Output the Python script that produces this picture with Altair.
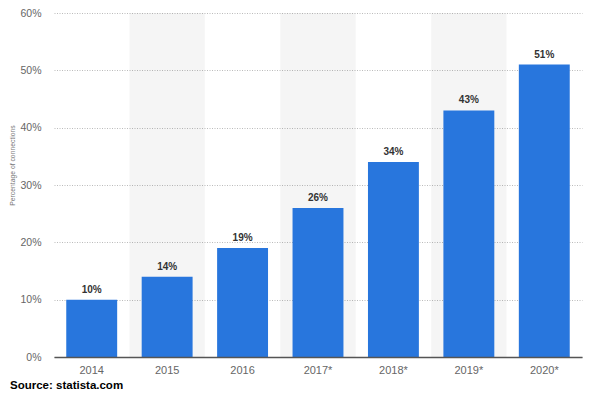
import altair as alt
import pandas as pd

years = ["2014", "2015", "2016", "2017*", "2018*", "2019*", "2020*"]
values = [10, 14, 19, 26, 34, 43, 51]
labels = ["10%", "14%", "19%", "26%", "34%", "43%", "51%"]
shaded_years = ["2015", "2017*", "2019*"]
y_ticks = [0, 10, 20, 30, 40, 50, 60]
source_text = "Source: statista.com"
y_title = "Percentage of connections"

FONT = "Liberation Sans"

df = pd.DataFrame({"year": years, "value": values, "label": labels})
bands = pd.DataFrame({"year": shaded_years})
src = pd.DataFrame({"t": [source_text]})

x_enc = alt.X(
    "year:N",
    sort=years,
    scale=alt.Scale(paddingInner=0, paddingOuter=0),
    axis=alt.Axis(
        title=None,
        labelAngle=0,
        bandPosition=0.5,
        labelAlign="center",
        ticks=False,
        tickSize=0,
        labelPadding=13,
        labelFont=FONT,
        labelFontSize=11,
        labelColor="#666666",
        domainColor="#555555",
        domainWidth=1.5,
        grid=False,
    ),
)

band_layer = alt.Chart(bands).mark_rect(color="#000000", opacity=0.04).encode(
    x=alt.X("year:N", sort=years),
    y=alt.value(0),
    y2=alt.value(344),
)

bars = alt.Chart(df).mark_bar(
    width=alt.RelativeBandSize(0.675), color="#2876dd"
).encode(
    x=x_enc,
    y=alt.Y(
        "value:Q",
        scale=alt.Scale(domain=[0, 60], nice=False),
        axis=alt.Axis(
            values=y_ticks,
            labelExpr="datum.value + '%'",
            title=y_title,
            titleFont=FONT,
            titleFontSize=6.8,
            titleFontWeight="normal",
            titleColor="#777777",
            titleAngle=-90,
            titleX=-42,
            titleY=152,
            titleAlign="center",
            titleBaseline="middle",
            ticks=False,
            tickSize=0,
            labelPadding=13,
            labelFont=FONT,
            labelFontSize=10.5,
            labelColor="#666666",
            domain=False,
            grid=True,
            gridColor="#bbbbbb",
            gridDash=[1, 1.5],
            gridWidth=1,
        ),
    ),
)

text = alt.Chart(df).mark_text(
    dy=-10, font=FONT, fontSize=10, fontWeight="bold", color="#333333"
).encode(x=alt.X("year:N", sort=years), y="value:Q", text="label:N")

source = alt.Chart(src).mark_text(
    align="left", baseline="alphabetic", font=FONT, fontSize=11.5,
    fontWeight="bold", color="#000000"
).encode(x=alt.value(-44), y=alt.value(376), text="t:N")

chart = alt.layer(band_layer, bars, text, source).properties(
    width=528,
    height=344,
    autosize=alt.AutoSizeParams(type="none"),
    padding={"left": 46, "top": 5, "right": 3, "bottom": 33},
).configure_view(stroke=None)

chart.save("out.html", embed_options={"renderer": "svg", "actions": False})
